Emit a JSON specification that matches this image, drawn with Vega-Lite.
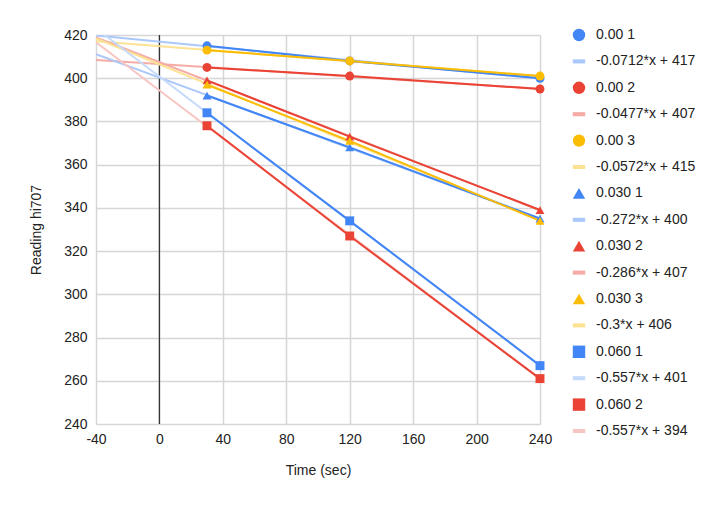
{
  "$schema": "https://vega.github.io/schema/vega-lite/v6.json",
  "width": 444,
  "height": 389,
  "autosize": "none",
  "padding": {"left": 96, "top": 35, "right": 184, "bottom": 88},
  "background": "white",
  "datasets": {
    "readings": [
      {"series": "0.00 1", "trend": "-0.0712*x + 417", "t": 30, "r": 415},
      {"series": "0.00 1", "trend": "-0.0712*x + 417", "t": 120, "r": 408},
      {"series": "0.00 1", "trend": "-0.0712*x + 417", "t": 240, "r": 400},
      {"series": "0.00 2", "trend": "-0.0477*x + 407", "t": 30, "r": 405},
      {"series": "0.00 2", "trend": "-0.0477*x + 407", "t": 120, "r": 401},
      {"series": "0.00 2", "trend": "-0.0477*x + 407", "t": 240, "r": 395},
      {"series": "0.00 3", "trend": "-0.0572*x + 415", "t": 30, "r": 413},
      {"series": "0.00 3", "trend": "-0.0572*x + 415", "t": 120, "r": 408},
      {"series": "0.00 3", "trend": "-0.0572*x + 415", "t": 240, "r": 401},
      {"series": "0.030 1", "trend": "-0.272*x + 400", "t": 30, "r": 392},
      {"series": "0.030 1", "trend": "-0.272*x + 400", "t": 120, "r": 368},
      {"series": "0.030 1", "trend": "-0.272*x + 400", "t": 240, "r": 335},
      {"series": "0.030 2", "trend": "-0.286*x + 407", "t": 30, "r": 399},
      {"series": "0.030 2", "trend": "-0.286*x + 407", "t": 120, "r": 373},
      {"series": "0.030 2", "trend": "-0.286*x + 407", "t": 240, "r": 339},
      {"series": "0.030 3", "trend": "-0.3*x + 406", "t": 30, "r": 397},
      {"series": "0.030 3", "trend": "-0.3*x + 406", "t": 120, "r": 371},
      {"series": "0.030 3", "trend": "-0.3*x + 406", "t": 240, "r": 334},
      {"series": "0.060 1", "trend": "-0.557*x + 401", "t": 30, "r": 384},
      {"series": "0.060 1", "trend": "-0.557*x + 401", "t": 120, "r": 334},
      {"series": "0.060 1", "trend": "-0.557*x + 401", "t": 240, "r": 267},
      {"series": "0.060 2", "trend": "-0.557*x + 394", "t": 30, "r": 378},
      {"series": "0.060 2", "trend": "-0.557*x + 394", "t": 120, "r": 327},
      {"series": "0.060 2", "trend": "-0.557*x + 394", "t": 240, "r": 261}
    ]
  },
  "layer": [
    {
      "data": {"values": [{"z": 0}]},
      "mark": {"type": "rule", "color": "#333333", "strokeWidth": 1.3},
      "encoding": {
        "x": {"field": "z", "type": "quantitative"}
      }
    },
    {
      "data": {"name": "readings"},
      "transform": [
        {"regression": "r", "on": "t", "groupby": ["trend"], "extent": [-40, 240]}
      ],
      "mark": {"type": "line", "clip": true, "strokeWidth": 2},
      "encoding": {
        "x": {"field": "t", "type": "quantitative"},
        "y": {"field": "r", "type": "quantitative"},
        "color": {"field": "trend", "type": "nominal"}
      }
    },
    {
      "data": {"name": "readings"},
      "mark": {"type": "line", "strokeWidth": 2},
      "encoding": {
        "x": {"field": "t", "type": "quantitative"},
        "y": {"field": "r", "type": "quantitative"},
        "color": {"field": "series", "type": "nominal"}
      }
    },
    {
      "data": {"name": "readings"},
      "mark": {"type": "point", "filled": true, "opacity": 1, "size": 80},
      "encoding": {
        "x": {"field": "t", "type": "quantitative", "title": "Time (sec)",
          "scale": {"domain": [-40, 240], "nice": false, "zero": false},
          "axis": {"values": [-40, 0, 40, 80, 120, 160, 200, 240],
            "labelExpr": "replace(datum.label, '\u2212', '-')"}},
        "y": {"field": "r", "type": "quantitative", "title": "Reading hi707",
          "scale": {"domain": [240, 420], "nice": false, "zero": false},
          "axis": {
            "values": [240, 250, 260, 270, 280, 290, 300, 310, 320, 330, 340, 350, 360, 370, 380, 390, 400, 410, 420],
            "labelExpr": "datum.value % 20 === 0 ? datum.label : ''",
            "gridColor": {"condition": {"test": "datum.value % 20 === 0", "value": "#d6d6d6"}, "value": "#e8e8e8"},
            "gridWidth": {"condition": {"test": "datum.value % 20 === 0", "value": 1.5}, "value": 1}
          }},
        "color": {
          "field": "series", "type": "nominal",
          "scale": {
            "domain": ["0.00 1", "-0.0712*x + 417", "0.00 2", "-0.0477*x + 407", "0.00 3", "-0.0572*x + 415", "0.030 1", "-0.272*x + 400", "0.030 2", "-0.286*x + 407", "0.030 3", "-0.3*x + 406", "0.060 1", "-0.557*x + 401", "0.060 2", "-0.557*x + 394"],
            "range": ["#4285f4", "#aac8fa", "#ea4335", "#f5aca6", "#fbbc04", "#fde293", "#4285f4", "#aac8fa", "#ea4335", "#f5aca6", "#fbbc04", "#fde293", "#4285f4", "#c6dafc", "#ea4335", "#f8c6c2"]
          }
        },
        "shape": {
          "field": "series", "type": "nominal",
          "scale": {
            "domain": ["0.00 1", "-0.0712*x + 417", "0.00 2", "-0.0477*x + 407", "0.00 3", "-0.0572*x + 415", "0.030 1", "-0.272*x + 400", "0.030 2", "-0.286*x + 407", "0.030 3", "-0.3*x + 406", "0.060 1", "-0.557*x + 401", "0.060 2", "-0.557*x + 394"],
            "range": ["circle", "M-1,-0.33H1V0.33H-1Z", "circle", "M-1,-0.33H1V0.33H-1Z", "circle", "M-1,-0.33H1V0.33H-1Z", "triangle-up", "M-1,-0.33H1V0.33H-1Z", "triangle-up", "M-1,-0.33H1V0.33H-1Z", "triangle-up", "M-1,-0.33H1V0.33H-1Z", "square", "M-1,-0.33H1V0.33H-1Z", "square", "M-1,-0.33H1V0.33H-1Z"]
          }
        }
      }
    }
  ],
  "config": {
    "font": "Liberation Sans",
    "view": {"stroke": null},
    "axis": {
      "domain": false,
      "ticks": false,
      "tickSize": 0,
      "labelFont": "Liberation Sans",
      "labelFontSize": 14,
      "labelColor": "#222222",
      "titleFont": "Liberation Sans",
      "titleFontSize": 14,
      "titleFontWeight": "normal",
      "titleColor": "#222222",
      "gridColor": "#d6d6d6",
      "gridWidth": 1.5
    },
    "axisX": {"labelPadding": 8, "titlePadding": 17, "labelFlush": false},
    "axisY": {"labelPadding": 9, "titlePadding": 20},
    "legend": {
      "orient": "none",
      "legendX": 476,
      "legendY": -7,
      "title": null,
      "symbolSize": 154,
      "symbolStrokeWidth": 0,
      "symbolOpacity": 1,
      "labelFont": "Liberation Sans",
      "labelFontSize": 14,
      "labelColor": "#222222",
      "labelOffset": 10,
      "rowPadding": 12.4,
      "labelLimit": 200
    }
  }
}
